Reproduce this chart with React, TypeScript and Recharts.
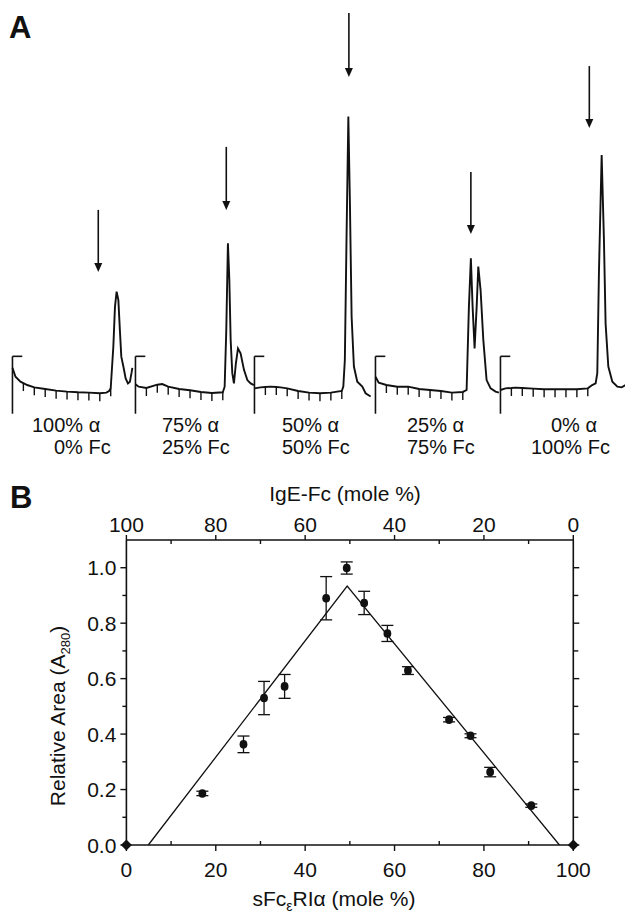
import React from "react";
import {
  LineChart,
  Line,
  XAxis,
  YAxis,
  ReferenceLine,
  ComposedChart,
  Scatter,
  ErrorBar,
} from "recharts";

const FONT = '"Liberation Sans", Arial, Helvetica, sans-serif';
const INK = "#111";

// ---- Panel A: elution profiles (time in fractions, absorbance in mAU) ----
const t1 = [0, 0.28, 0.73, 1, 1.35, 2, 3, 4, 5, 6, 7, 8, 8.6, 8.85, 9, 9.24, 9.39, 9.54, 9.7, 9.84, 9.97, 10.16, 10.37, 10.58, 10.76, 10.92, 10.98];
const a1 = [6.5, 3.8, 2.3, 1.9, 1.3, 0.6, 0.1, -0.4, -0.7, -0.9, -1.0, -1.2, -1.0, -0.5, 0.3, 12.9, 25, 29.6, 27.1, 18, 9.9, 6.9, 3.3, 1.8, 2.3, 5.2, 6.5];

const t2 = [0, 0.3, 1, 2, 2.45, 3, 4, 5, 6, 7, 8, 8.17, 8.32, 8.47, 8.6, 8.72, 8.87, 9.02, 9.2, 9.39, 9.63, 9.94, 10.25, 10.55, 10.85];
const a2 = [1.5, 0.8, 0.4, 1.4, 1.6, 0.8, 0.1, -0.3, -0.8, -1.1, -0.9, 0.8, 18, 44.3, 33.1, 15, 4.9, 1.8, 7.9, 12.4, 10.9, 5.9, 2.8, 1.8, 1.3];

const t3 = [0, 0.55, 1, 1.47, 2, 2.39, 3, 4, 5, 6, 7, 8, 8.14, 8.28, 8.44, 8.6, 8.74, 8.9, 9.11, 9.42, 9.88, 10.18, 10.64];
const a3 = [0.3, 0.6, 0.7, 0.8, 0.7, 0.6, 0.3, -0.5, -1.0, -1.2, -1.0, -0.5, 0.8, 8.9, 47.3, 82.7, 57.4, 22, 6.9, 2.3, 0.8, -1.2, -2.2];

const t4 = [0, 0.3, 1, 2, 3, 4, 5, 6, 7, 8, 8.35, 8.56, 8.74, 8.9, 9.08, 9.27, 9.42, 9.63, 9.88, 10.18, 10.55, 11.0, 11.31];
const a4 = [3.8, 2.0, 1.3, 0.8, 0.8, 0.1, -0.2, -0.5, -1.0, -0.8, -0.2, 25, 39.7, 25, 12.4, 25, 37.2, 30.1, 15, 2.8, 0.3, -0.7, -1.0];

const t5 = [0, 0.46, 1, 1.38, 2, 3, 4, 5, 6, 7, 8, 8.4, 8.72, 8.87, 9.02, 9.27, 9.48, 9.63, 9.88, 10.25, 10.71, 11.1, 11.47];
const a5 = [-0.2, 0.3, 0.4, 0.5, 0.4, 0.2, 0.0, 0.0, 0.0, 0.0, 0.3, 1.3, 1.8, 4.9, 35.2, 71, 45.3, 20, 6.9, 2.3, 0.8, 0.6, 1.3];

const fractionMarks = [9, 8, 8, 8, 8];
const arrowTime = [7.86, 8.32, 8.65, 8.74, 8.14];
const arrowTip = [35.6, 54.4, 94.7, 47.1, 79.2];
const arrowTail = [54.4, 73.5, 114.1, 65.9, 98];
const bracketTop = 10;
const bracketBottom = -7.4;

const mixAlpha = ["100% α", "75% α", "50% α", "25% α", "0% α"];
const mixFc = ["0% Fc", "25% Fc", "50% Fc", "75% Fc", "100% Fc"];

// ---- Panel B: relative area vs composition ----
const sFcMole = [17.0, 26.2, 30.8, 35.4, 44.7, 49.3, 53.2, 58.4, 63.0, 72.2, 77.0, 81.4, 90.6];
const relArea = [0.186, 0.363, 0.53, 0.572, 0.89, 0.999, 0.873, 0.763, 0.629, 0.452, 0.394, 0.263, 0.142];
const relAreaErr = [0.008, 0.03, 0.06, 0.043, 0.078, 0.022, 0.042, 0.029, 0.014, 0.008, 0.007, 0.017, 0.006];
const fitMole = [4.9, 49.4, 96.9];
const fitArea = [0, 0.934, 0];
const endMole = [0, 100];
const endArea = [0, 0];
const moleTicks = [0, 10, 20, 30, 40, 50, 60, 70, 80, 90, 100];
const areaTicks = [0, 0.1, 0.2, 0.3, 0.4, 0.5, 0.6, 0.7, 0.8, 0.9, 1.0];

const traces = [
  { t: t1, a: a1 },
  { t: t2, a: a2 },
  { t: t3, a: a3 },
  { t: t4, a: a4 },
  { t: t5, a: a5 },
];
const traceAxisX = [12, 135, 254, 375, 500];
const labelX1 = [32, 162, 282, 407, 551];
const labelX2 = [54, 162, 282, 407, 531];

const markDot = (limit: number) => (p: any) => {
  const t = p.payload.t;
  const key = `m-${p.index}`;
  if (Number.isInteger(t) && t >= 1 && t <= limit) {
    return <line key={key} x1={p.cx} x2={p.cx} y1={p.cy} y2={p.cy + 8} stroke={INK} strokeWidth={1.4} />;
  }
  return <g key={key} />;
};

const arrowShape = (p: any) => (
  <g>
    <line x1={p.x1} y1={p.y1} x2={p.x2} y2={p.y2 - 6} stroke={INK} strokeWidth={1.6} />
    <polygon points={`${p.x2},${p.y2} ${p.x2 - 4},${p.y2 - 9} ${p.x2 + 4},${p.y2 - 9}`} fill={INK} />
  </g>
);

function Trace({ idx }: { idx: number }) {
  const tr = traces[idx];
  const data = tr.t.map((t, i) => ({ t, a: tr.a[i] }));
  return (
    <div style={{ position: "absolute", left: traceAxisX[idx] - 5.46, top: 10 }}>
      <LineChart width={131} height={409} data={data} margin={{ top: 0, right: 0, bottom: 0, left: 0 }}>
        <XAxis hide type="number" dataKey="t" domain={[-0.5, 11.5]} allowDataOverflow />
        <YAxis hide type="number" domain={[-9, 115]} allowDataOverflow />
        <ReferenceLine
          segment={[{ x: 0, y: bracketBottom }, { x: 0, y: bracketTop }]}
          stroke={INK}
          strokeWidth={1.6}
          ifOverflow="visible"
        />
        <ReferenceLine
          segment={[{ x: 0, y: bracketTop }, { x: 0.9, y: bracketTop }]}
          stroke={INK}
          strokeWidth={1.6}
          ifOverflow="visible"
        />
        <ReferenceLine
          segment={[{ x: arrowTime[idx], y: arrowTail[idx] }, { x: arrowTime[idx], y: arrowTip[idx] }]}
          shape={arrowShape}
          ifOverflow="visible"
        />
        <Line
          type="linear"
          dataKey="a"
          stroke={INK}
          strokeWidth={1.9}
          dot={markDot(fractionMarks[idx])}
          activeDot={false}
          isAnimationActive={false}
        />
      </LineChart>
    </div>
  );
}

const txt = { fontFamily: FONT, fill: INK } as const;

const BottomTick = (p: any) => {
  const v = p.payload.value;
  const major = v % 20 === 0;
  return (
    <g>
      <line x1={p.x} x2={p.x} y1={p.y} y2={p.y + (major ? 6 : -4)} stroke={INK} strokeWidth={1.4} />
      {major && (
        <text x={p.x} y={p.y + 32} textAnchor="middle" fontSize={21} {...txt}>
          {v}
        </text>
      )}
    </g>
  );
};

const TopTick = (p: any) => {
  const v = p.payload.value;
  const major = v % 20 === 0;
  return (
    <g>
      <line x1={p.x} x2={p.x} y1={p.y} y2={p.y + (major ? -5 : 4)} stroke={INK} strokeWidth={1.4} />
      {major && (
        <text x={p.x} y={p.y - 8} textAnchor="middle" fontSize={21} {...txt}>
          {100 - v}
        </text>
      )}
    </g>
  );
};

const LeftTick = (p: any) => {
  const v = p.payload.value;
  const major = Math.round(v * 10) % 2 === 0;
  return (
    <g>
      <line x1={p.x} x2={p.x - (major ? 6 : 4)} y1={p.y} y2={p.y} stroke={INK} strokeWidth={1.4} />
      {major && (
        <text x={p.x - 10} y={p.y + 7.5} textAnchor="end" fontSize={21} {...txt}>
          {v.toFixed(1)}
        </text>
      )}
    </g>
  );
};

const RightTick = (p: any) => {
  const v = p.payload.value;
  const major = Math.round(v * 10) % 2 === 0;
  return <line x1={p.x} x2={p.x + (major ? 6 : 5)} y1={p.y} y2={p.y} stroke={INK} strokeWidth={1.4} />;
};

const pointShape = (p: any) => <ellipse cx={p.cx} cy={p.cy} rx={3.9} ry={4.3} fill={INK} />;
const diamondShape = (p: any) => (
  <polygon
    points={`${p.cx},${p.cy - 5.5} ${p.cx + 5.5},${p.cy} ${p.cx},${p.cy + 5.5} ${p.cx - 5.5},${p.cy}`}
    fill={INK}
  />
);

function PanelB() {
  const points = sFcMole.map((x, i) => ({ x, y: relArea[i], err: relAreaErr[i] }));
  const fit = fitMole.map((x, i) => ({ x, y: fitArea[i] }));
  const ends = endMole.map((x, i) => ({ x, y: endArea[i] }));
  const axisStyle = { stroke: INK, strokeWidth: 1.6 };
  return (
    <div style={{ position: "absolute", left: 0, top: 470 }}>
      <ComposedChart width={625} height={443} margin={{ top: 30, right: 31.7, bottom: 28, left: 86.4 }}>
        <XAxis
          xAxisId="b"
          type="number"
          dataKey="x"
          domain={[0, 100]}
          ticks={moleTicks}
          interval={0}
          height={40}
          tickSize={0}
          tickMargin={0}
          tickLine={false}
          axisLine={axisStyle}
          tick={<BottomTick />}
        />
        <XAxis
          xAxisId="top"
          orientation="top"
          type="number"
          dataKey="x"
          domain={[0, 100]}
          ticks={moleTicks}
          interval={0}
          height={40}
          tickSize={0}
          tickMargin={0}
          tickLine={false}
          axisLine={axisStyle}
          tick={<TopTick />}
        />
        <YAxis
          yAxisId="l"
          type="number"
          domain={[0, 1.1]}
          ticks={areaTicks}
          interval={0}
          width={40}
          tickSize={0}
          tickMargin={0}
          tickLine={false}
          axisLine={axisStyle}
          tick={<LeftTick />}
        />
        <YAxis
          yAxisId="r"
          orientation="right"
          type="number"
          domain={[0, 1.1]}
          ticks={areaTicks}
          interval={0}
          width={20}
          tickSize={0}
          tickMargin={0}
          tickLine={false}
          axisLine={axisStyle}
          tick={<RightTick />}
        />
        <Line
          xAxisId="top"
          yAxisId="r"
          data={fit}
          dataKey="y"
          type="linear"
          stroke={INK}
          strokeWidth={1.3}
          dot={false}
          activeDot={false}
          isAnimationActive={false}
        />
        <Scatter
          xAxisId="b"
          yAxisId="l"
          data={points}
          dataKey="y"
          shape={pointShape}
          isAnimationActive={false}
        >
          <ErrorBar dataKey="err" direction="y" width={6} stroke={INK} strokeWidth={1.3} isAnimationActive={false} />
        </Scatter>
        <Scatter
          xAxisId="b"
          yAxisId="l"
          data={ends}
          dataKey="y"
          shape={diamondShape}
          isAnimationActive={false}
        />
      </ComposedChart>
    </div>
  );
}

export default function App() {
  return (
    <div style={{ position: "relative", width: 625, height: 913, background: "#fff", overflow: "hidden" }}>
      <style>{"body{margin:0}"}</style>
      {traces.map((_, i) => (
        <Trace key={i} idx={i} />
      ))}
      <PanelB />
      <svg width={625} height={913} style={{ position: "absolute", left: 0, top: 0, pointerEvents: "none" }}>
        <text x={9} y={38} fontSize={31} fontWeight="bold" {...txt}>A</text>
        <text x={10} y={508} fontSize={31} fontWeight="bold" {...txt}>B</text>
        {mixAlpha.map((s, i) => (
          <text key={`a${i}`} x={labelX1[i]} y={432} fontSize={20} {...txt}>{s}</text>
        ))}
        {mixFc.map((s, i) => (
          <text key={`f${i}`} x={labelX2[i]} y={454} fontSize={20} {...txt}>{s}</text>
        ))}
        <text x={345} y={501} textAnchor="middle" fontSize={21} {...txt}>IgE-Fc (mole %)</text>
        <text x={334} y={906} textAnchor="middle" fontSize={21} {...txt}>
          sFc<tspan fontSize={14} dy={5}>ε</tspan>
          <tspan dy={-5}>RIα (mole %)</tspan>
        </text>
        <text transform="translate(64.5,716) rotate(-90)" textAnchor="middle" fontSize={21} {...txt}>
          Relative Area  (A<tspan fontSize={13} dy={5}>280</tspan>
          <tspan dy={-5}>)</tspan>
        </text>
      </svg>
    </div>
  );
}
